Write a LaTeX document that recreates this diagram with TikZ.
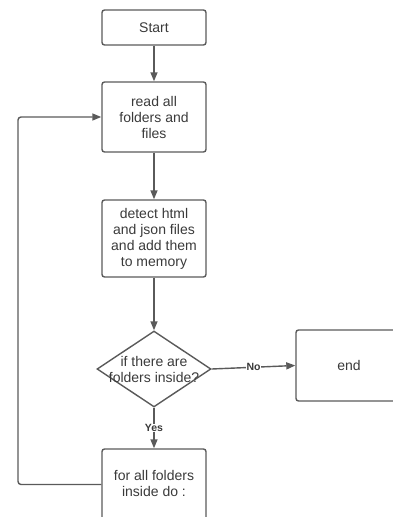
\documentclass[tikz,border=0pt]{standalone}
\usepackage{fontspec}
\setmainfont{Liberation Sans}
\usetikzlibrary{arrows.meta,shapes.geometric}
\definecolor{linegray}{HTML}{5A5A5A}
\definecolor{textgray}{HTML}{3A3A3A}
\begin{document}
\begin{tikzpicture}[x=1pt,y=-1pt,
  every node/.style={text=textgray},
  box/.style={draw=linegray, line width=1.4pt, rounded corners=2.5pt, minimum width=104pt, inner sep=0pt, align=center, font=\fontsize{14}{16}\selectfont},
  decision/.style={draw=linegray, line width=1.4pt, diamond, minimum width=114pt, minimum height=76pt, inner sep=0pt},
  txt/.style={align=center, font=\fontsize{14}{16}\selectfont, inner sep=0pt},
  conn/.style={draw=linegray, line width=1.4pt, -{Triangle[length=9pt,width=7pt]}},
  lbl/.style={font=\bfseries\fontsize{10.5}{12}\selectfont, fill=white, inner sep=0.5pt}
]
\useasboundingbox (0,0) rectangle (392,517);
\node[box, minimum height=35pt] (start) at (154,27.5) {Start};
\node[box, minimum height=70pt] (read) at (154,117) {read all\\folders and\\files};
\node[box, minimum height=77pt] (detect) at (154,238.5) {detect html\\and json files\\and add them\\to memory};
\node[decision] (dec) at (154,369) {};
\node[txt] (dectext) at (dec.center) {if there are\\folders inside?};
\node[box, minimum width=106pt, minimum height=71pt] (end) at (349,365.5) {end};
\node[box, minimum height=71pt] (for) at (154,484.5) {};
\node[txt] (fortext) at (154,483) {for all folders\\inside do :};
\coordinate (loopb) at (18,484.5);
\draw[conn] (start) -- (read);
\draw[conn] (read) -- (detect);
\draw[conn] (detect) -- (dec);
\draw[conn] (dec.east) -- node[lbl] (nolbl) {No} (end.west);
\draw[conn] (dec.south) -- node[lbl] (yeslbl) {Yes} (for.north);
\draw[conn, rounded corners=3pt] (for.west) -- (loopb) |- (read.west);
\end{tikzpicture}
\end{document}
